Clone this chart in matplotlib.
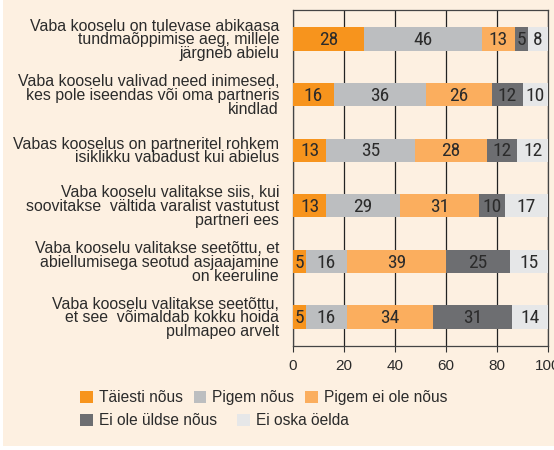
import matplotlib.pyplot as plt
from matplotlib.patches import Rectangle, Patch
import numpy as np

# statements, top to bottom
labels = ['Vaba kooselu on tulevase abikaasa\ntundmaõppimise aeg, millele\njärgneb abielu',
          'Vaba kooselu valivad need inimesed,\nkes pole iseendas või oma partneris\nkindlad',
          'Vabas kooselus on partneritel rohkem\nisiklikku vabadust kui abielus',
          'Vaba kooselu valitakse siis, kui\nsoovitakse  vältida varalist vastutust\npartneri ees',
          'Vaba kooselu valitakse seetõttu, et\nabiellumisega seotud asjaajamine\non keeruline',
          'Vaba kooselu valitakse seetõttu,\net see  võimaldab kokku hoida\npulmapeo arvelt']

series = ['Täiesti nõus', 'Pigem nõus', 'Pigem ei ole nõus', 'Ei ole üldse nõus', 'Ei oska öelda']
taiesti = [28, 16, 13, 13, 5, 5]
pigem = [46, 36, 35, 29, 16, 16]
pigem_ei = [13, 26, 28, 31, 39, 34]
uldse_ei = [5, 12, 12, 10, 25, 31]
ei_oska = [8, 10, 12, 17, 15, 14]
ticks = [0, 20, 40, 60, 80, 100]

colors = ['#F7941D', '#BCBEC0', '#FBAE5E', '#6D6E71', '#E6E7E8']
bg = '#FDF0E1'
txt = '#2b2b2b'
narrow = ['Liberation Sans Narrow', 'Roboto Condensed', 'Archivo Narrow',
          'PT Sans Narrow', 'Open Sans Condensed', 'DejaVu Sans']

plt.rcParams['font.family'] = ['Liberation Sans', 'DejaVu Sans']

fig = plt.figure(figsize=(5.54, 4.5), dpi=100)
fig.patch.set_facecolor('white')
fig.patches.append(Rectangle((3/554, 4/450), 1, 1, transform=fig.transFigure,
                             facecolor=bg, edgecolor='none', zorder=-10))

ax = fig.add_axes([293/554, 104/450, 255/554, 336/450])
ax.set_facecolor(bg)

data = [taiesti, pigem, pigem_ei, uldse_ei, ei_oska]
y = np.arange(len(labels))[::-1]
left = np.zeros(len(labels))
for vals, c in zip(data, colors):
    vals = np.array(vals)
    ax.barh(y, vals, left=left, height=0.42, color=c, zorder=3)
    for yi, l, v in zip(y, left, vals):
        ax.text(l + v / 2, yi - 0.02, str(v), ha='center', va='center', fontsize=14,
                family=narrow, color=txt, zorder=4)
    left += vals

ax.set_xlim(0, 100)
ax.set_ylim(-0.52, 5.52)
ax.set_xticks(ticks)
ax.set_xticklabels([str(t) for t in ticks], fontsize=11, color=txt)
ax.tick_params(axis='x', direction='out', length=4, width=0.8, color='#333333', pad=5)
ax.set_yticks(y)
ax.set_yticklabels(labels, fontsize=11.4, color=txt, linespacing=0.9)
ax.tick_params(axis='y', length=0, pad=10)
ax.grid(axis='x', color='#222222', linewidth=0.9, zorder=1)
for s in ax.spines.values():
    s.set_color('#444444')
    s.set_linewidth(0.9)

handles = [Patch(facecolor=c, edgecolor='none') for c in colors]
leg_kw = dict(frameon=False, fontsize=11.2, handlelength=0.8, handleheight=0.8,
              handletextpad=0.4, borderaxespad=0, labelcolor=txt)
leg1 = fig.legend(handles[:3], series[:3], loc='upper left', ncol=3, columnspacing=0.7,
                  bbox_to_anchor=(74/554, 1 - 384/450), **leg_kw)
leg2 = fig.legend(handles[3:], series[3:], loc='upper left', ncol=2, columnspacing=1.3,
                  bbox_to_anchor=(74/554, 1 - 407/450), **leg_kw)

fig.savefig('out.png', dpi=100, facecolor=fig.get_facecolor())
